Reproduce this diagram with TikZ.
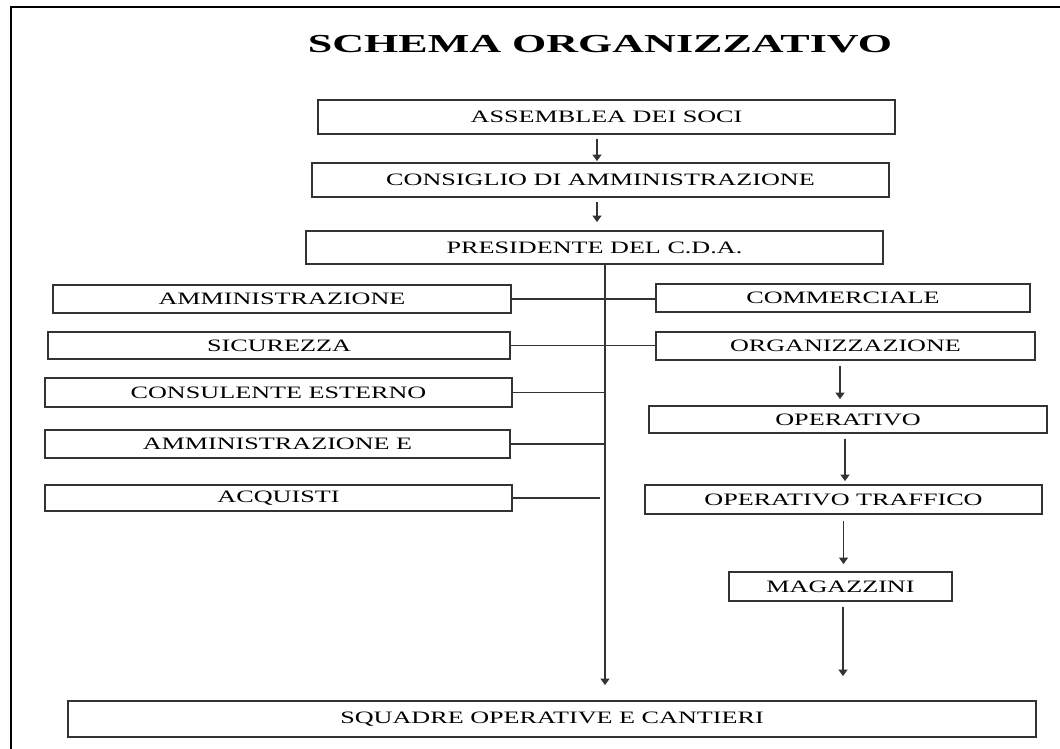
\documentclass[tikz,border=0pt]{standalone}
\usepackage{fontspec}
\usetikzlibrary{arrows.meta,calc}
\newfontfamily\boxfont[FakeStretch=1.5]{Liberation Serif}
\newfontfamily\headfont[FakeStretch=1.7]{Liberation Serif}
\begin{document}
\begin{tikzpicture}[x=1bp,y=-1bp,
  unitbox/.style={draw=black!80, line width=1.8bp, rectangle, inner sep=0pt,
    font=\boxfont\fontsize{17.5}{20}\selectfont},
  link/.style={draw=black!80, line width=1.1bp},
  flow/.style={link, -{Triangle[length=6.5bp,width=9bp]}}
]
\useasboundingbox (0,0) rectangle (1060,749);

% page frame (top and left edges)
\draw[line width=2.5bp] (11,749) -- (11,7) -- (1060,7);

% title
\node[anchor=base, inner sep=0pt, font=\headfont\bfseries\fontsize{26}{30}\selectfont]
  (title) at (600,53) {SCHEMA ORGANIZZATIVO};

% governing bodies
\node[unitbox, minimum width=577bp, minimum height=34bp] (assem) at (606.5,117) {ASSEMBLEA DEI SOCI};
\node[unitbox, minimum width=577bp, minimum height=34bp] (cons)  at (600.5,180) {CONSIGLIO DI AMMINISTRAZIONE};
\node[unitbox, minimum width=577bp, minimum height=33bp] (pres)  at (594.5,247.5) {PRESIDENTE DEL C.D.A.};

% staff units on the left
\node[unitbox, minimum width=458bp, minimum height=28bp] (ammin)  at (282,299)   {AMMINISTRAZIONE};
\node[unitbox, minimum width=462bp, minimum height=27bp] (sicur)  at (279,345.5) {SICUREZZA};
\node[unitbox, minimum width=467bp, minimum height=29bp] (consul) at (278.5,392.5) {CONSULENTE ESTERNO};
\node[unitbox, minimum width=465bp, minimum height=28bp] (ammE)   at (277.5,444) {AMMINISTRAZIONE E};
\node[unitbox, minimum width=467bp, minimum height=26bp] (acq)    at (278.5,498) {ACQUISTI};

% operational chain on the right
\node[unitbox, minimum width=374bp, minimum height=28bp] (comm)  at (843,298)   {COMMERCIALE};
\node[unitbox, minimum width=379bp, minimum height=28bp] (org)   at (845.5,346) {ORGANIZZAZIONE};
\node[unitbox, minimum width=398bp, minimum height=27bp] (oper)  at (848,419.5) {OPERATIVO};
\node[unitbox, minimum width=397bp, minimum height=29bp] (traff) at (843.5,499.5) {OPERATIVO TRAFFICO};
\node[unitbox, minimum width=223bp, minimum height=29bp] (mag)   at (840.5,586.5) {MAGAZZINI};

% field teams
\node[unitbox, minimum width=968bp, minimum height=36bp] (squad) at (552,719) {SQUADRE OPERATIVE E CANTIERI};

% top-down chain
\draw[flow, shorten <=4bp, shorten >=1bp] ([xshift=-3.5bp]assem.south -| cons.north) -- ([xshift=-3.5bp]cons.north);
\draw[flow, shorten <=4bp, shorten >=8bp] ([xshift=2.5bp]cons.south -| pres.north) -- ([xshift=2.5bp]pres.north);

% main vertical line from the president
\coordinate (bus) at ([xshift=10.5bp]pres.south);
\draw[flow, shorten >=15bp] (bus) -- (bus |- squad.north);

% horizontal links
\draw[link] (ammin.east) -- (ammin.east -| comm.west);
\draw[link] (sicur.east) -- (sicur.east -| org.west);
\draw[link] (consul.east) -- (consul.east -| bus);
\draw[link] (ammE.east) -- (ammE.east -| bus);
\draw[link, shorten >=5bp] (acq.east) -- (acq.east -| bus);

% right-hand chain
\draw[flow, shorten <=5bp, shorten >=6bp] ([xshift=-5.5bp]org.south) -- ([xshift=-5.5bp]org.south |- oper.north);
\draw[flow, shorten <=5bp, shorten >=3bp] ([xshift=-3bp]oper.south) -- ([xshift=-3bp]oper.south |- traff.north);
\draw[flow, shorten <=6bp, shorten >=7bp] (traff.south) -- (traff.south |- mag.north);
\draw[flow, shorten <=5bp, shorten >=24bp] ([xshift=2.5bp]mag.south) -- ([xshift=2.5bp]mag.south |- squad.north);
\end{tikzpicture}
\end{document}
